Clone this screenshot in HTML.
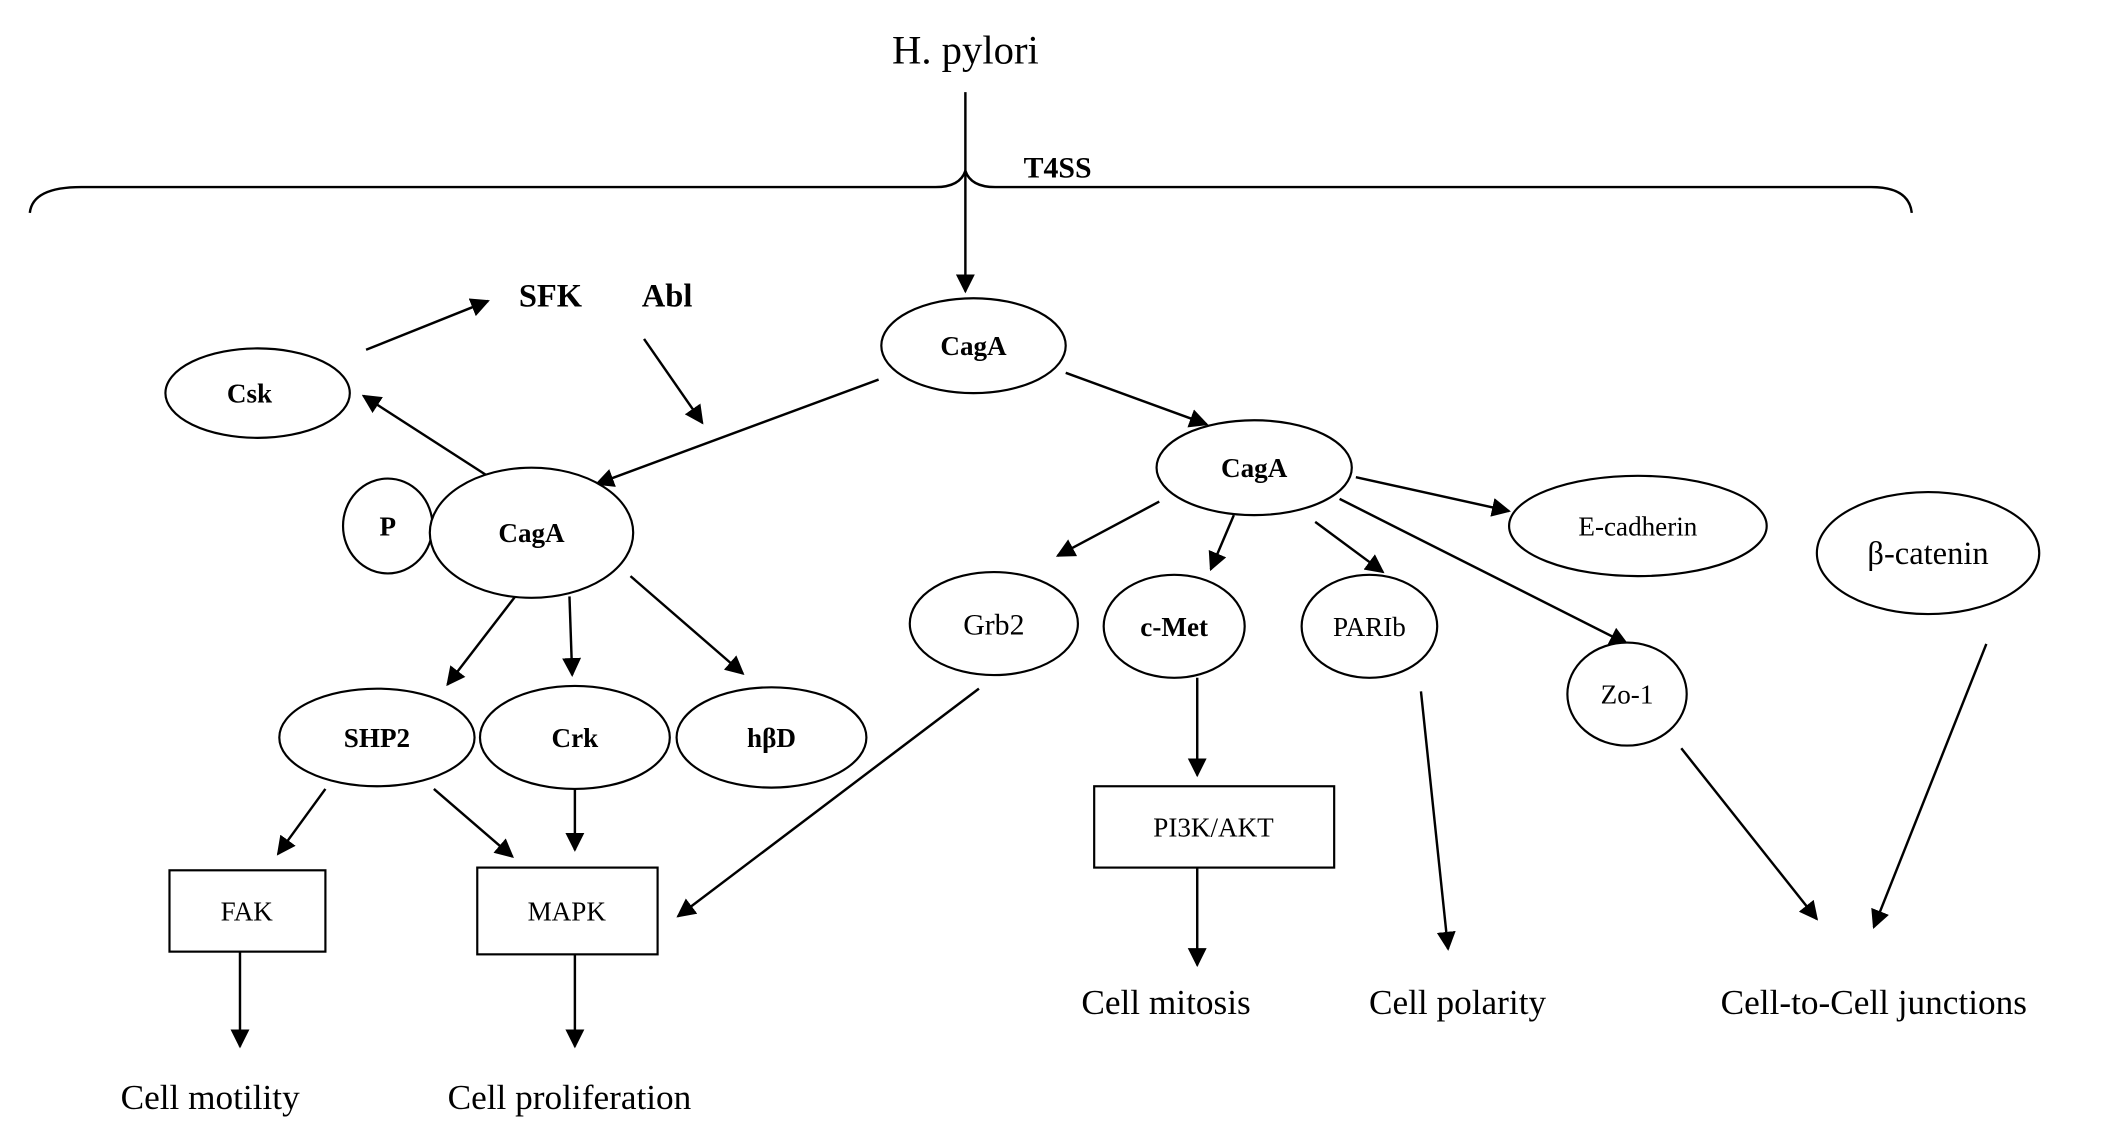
<!DOCTYPE html>
<html><head><meta charset="utf-8"><style>
html,body{margin:0;padding:0;background:#fff;}
svg{display:block;}
text{font-family:"Liberation Serif",serif;fill:#000;}
.b{font-weight:bold;}
</style></head><body>
<svg width="2126" height="1136" viewBox="0 0 1568 838" preserveAspectRatio="none" xmlns="http://www.w3.org/2000/svg">
<defs><marker id="a" markerWidth="10" markerHeight="10" refX="9" refY="5" orient="auto" markerUnits="userSpaceOnUse"><path d="M0,0 L10,5 L0,10 z" fill="#000"/></marker>
<marker id="m" viewBox="0 0 10 10" markerWidth="14" markerHeight="14" refX="9" refY="5" orient="auto" markerUnits="userSpaceOnUse"><path d="M0,0 L10,5 L0,10 z" fill="#000"/></marker></defs>
<g stroke="#000" stroke-width="1.8" fill="none">
<path d="M22,157 Q24,138 60,138 L690,138 Q708,138 712,126 Q716,138 734,138 L1380,138 Q1408,138 1410,157"/>
</g>
<g stroke="#000" stroke-width="1.8" marker-end="url(#m)">
<line x1="712" y1="68" x2="712" y2="215"/>
<line x1="270" y1="258" x2="360" y2="222"/>
<line x1="475" y1="250" x2="518" y2="312"/>
<line x1="648" y1="280" x2="440" y2="357"/>
<line x1="358" y1="350" x2="268" y2="292"/>
<line x1="380" y1="440" x2="330" y2="505"/>
<line x1="420" y1="440" x2="422" y2="498"/>
<line x1="465" y1="425" x2="548" y2="497"/>
<line x1="240" y1="582" x2="205" y2="630"/>
<line x1="320" y1="582" x2="378" y2="632"/>
<line x1="424" y1="582" x2="424" y2="627"/>
<line x1="177" y1="702" x2="177" y2="772"/>
<line x1="424" y1="704" x2="424" y2="772"/>
<line x1="722" y1="508" x2="500" y2="676"/>
<line x1="786" y1="275" x2="890" y2="313"/>
<line x1="855" y1="370" x2="780" y2="410"/>
<line x1="910" y1="380" x2="893" y2="420"/>
<line x1="970" y1="385" x2="1020" y2="422"/>
<line x1="1000" y1="352" x2="1113" y2="377"/>
<line x1="988" y1="368" x2="1200" y2="475"/>
<line x1="883" y1="500" x2="883" y2="572"/>
<line x1="883" y1="640" x2="883" y2="712"/>
<line x1="1048" y1="510" x2="1068" y2="700"/>
<line x1="1240" y1="552" x2="1340" y2="678"/>
<line x1="1465" y1="475" x2="1382" y2="684"/>
</g>
<g stroke="#000" stroke-width="1.6" fill="#fff">
<ellipse cx="718" cy="255" rx="68" ry="35"/>
<ellipse cx="190" cy="290" rx="68" ry="33"/>
<ellipse cx="286" cy="388" rx="33" ry="35"/>
<ellipse cx="392" cy="393" rx="75" ry="48"/>
<ellipse cx="278" cy="544" rx="72" ry="36"/>
<ellipse cx="569" cy="544" rx="70" ry="37"/>
<ellipse cx="424" cy="544" rx="70" ry="38"/>
<rect x="125" y="642" width="115" height="60"/>
<rect x="352" y="640" width="133" height="64"/>
<ellipse cx="925" cy="345" rx="72" ry="35"/>
<ellipse cx="733" cy="460" rx="62" ry="38"/>
<ellipse cx="1010" cy="462" rx="50" ry="38"/>
<ellipse cx="866" cy="462" rx="52" ry="38"/>
<ellipse cx="1208" cy="388" rx="95" ry="37"/>
<ellipse cx="1422" cy="408" rx="82" ry="45"/>
<ellipse cx="1200" cy="512" rx="44" ry="38"/>
<rect x="807" y="580" width="177" height="60"/>
</g>
<g text-anchor="middle">
<text x="712" y="47" font-size="30">H. pylori</text>
<text x="780" y="131" font-size="22" class="b">T4SS</text>
<text x="406" y="226" font-size="24" class="b">SFK</text>
<text x="492" y="226" font-size="24" class="b">Abl</text>
<text x="718" y="262" font-size="20" class="b">CagA</text>
<text x="184" y="297" font-size="20" class="b">Csk</text>
<text x="286" y="395" font-size="20" class="b">P</text>
<text x="392" y="400" font-size="20" class="b">CagA</text>
<text x="278" y="551" font-size="20" class="b">SHP2</text>
<text x="424" y="551" font-size="20" class="b">Crk</text>
<text x="569" y="551" font-size="20" class="b">hβD</text>
<text x="182" y="679" font-size="20">FAK</text>
<text x="418" y="679" font-size="20">MAPK</text>
<text x="155" y="818" font-size="26">Cell motility</text>
<text x="420" y="818" font-size="26">Cell proliferation</text>
<text x="925" y="352" font-size="20" class="b">CagA</text>
<text x="733" y="468" font-size="22">Grb2</text>
<text x="866" y="469" font-size="20" class="b">c-Met</text>
<text x="1010" y="469" font-size="20">PARIb</text>
<text x="1208" y="395" font-size="20">E-cadherin</text>
<text x="1422" y="416" font-size="24">β-catenin</text>
<text x="1200" y="519" font-size="20">Zo-1</text>
<text x="895" y="617" font-size="20">PI3K/AKT</text>
<text x="860" y="748" font-size="26">Cell mitosis</text>
<text x="1075" y="748" font-size="26">Cell polarity</text>
<text x="1382" y="748" font-size="26">Cell-to-Cell junctions</text>
</g>
</svg>
</body></html>
